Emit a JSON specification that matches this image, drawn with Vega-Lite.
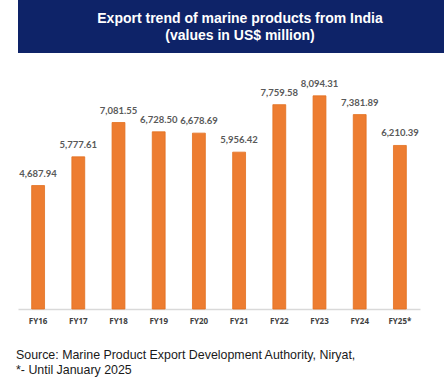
{
  "$schema": "https://vega.github.io/schema/vega-lite/v6.json",
  "padding": 0,
  "background": "#ffffff",
  "spacing": 19,
  "config": {"view": {"stroke": null}, "font": "Liberation Sans"},
  "vconcat": [
    {
      "width": 444,
      "height": 53,
      "view": {"fill": "#0E2368", "stroke": null},
      "data": {"values": [{"heading": "Export trend of marine products from India\n(values in US$ million)"}]},
      "mark": {"type": "text", "color": "#ffffff", "font": "Liberation Sans", "fontWeight": "bold", "fontSize": 14, "lineBreak": "\n", "lineHeight": 17, "baseline": "alphabetic", "dy": -4},
      "encoding": {"text": {"field": "heading"}}
    },
    {
      "width": 402,
      "height": 237,
      "data": {"values": [
        {"year": "FY16", "value": 4687.94},
        {"year": "FY17", "value": 5777.61},
        {"year": "FY18", "value": 7081.55},
        {"year": "FY19", "value": 6728.50},
        {"year": "FY20", "value": 6678.69},
        {"year": "FY21", "value": 5956.42},
        {"year": "FY22", "value": 7759.58},
        {"year": "FY23", "value": 8094.31},
        {"year": "FY24", "value": 7381.89},
        {"year": "FY25*", "value": 6210.39}
      ]},
      "title": {
        "text": ["Source: Marine Product Export Development Authority, Niryat,", "*- Until January 2025"],
        "orient": "bottom",
        "anchor": "start",
        "frame": "group",
        "dx": -2,
        "offset": 24,
        "font": "Liberation Sans",
        "fontSize": 12.4,
        "fontWeight": "normal",
        "color": "#1a1a1a",
        "lineHeight": 15
      },
      "encoding": {
        "x": {
          "field": "year", "type": "nominal", "sort": null,
          "scale": {"paddingInner": 0.68, "paddingOuter": 0.34},
          "axis": {"title": null, "labelAngle": 0, "ticks": false, "domainColor": "#D9D9D9", "domainWidth": 1.5,
                   "labelFont": "Open Sans", "labelFontSize": 8, "labelFontWeight": "bold", "labelColor": "#404040", "labelPadding": 8}
        },
        "y": {
          "field": "value", "type": "quantitative",
          "scale": {"domain": [0, 9000], "nice": false},
          "axis": {"title": null, "labels": false, "ticks": false, "domain": false, "grid": false, "minExtent": 18, "maxExtent": 18}
        }
      },
      "layer": [
        {"mark": {"type": "bar", "color": "#ED7D31", "stroke": "#E2701F", "strokeWidth": 0.8}},
        {"mark": {"type": "text", "baseline": "alphabetic", "dy": -9, "font": "Lato", "fontSize": 9.5, "fontWeight": "bold", "color": "#595959"},
         "encoding": {"text": {"field": "value", "type": "quantitative", "format": ",.2f"}}}
      ]
    }
  ]
}
